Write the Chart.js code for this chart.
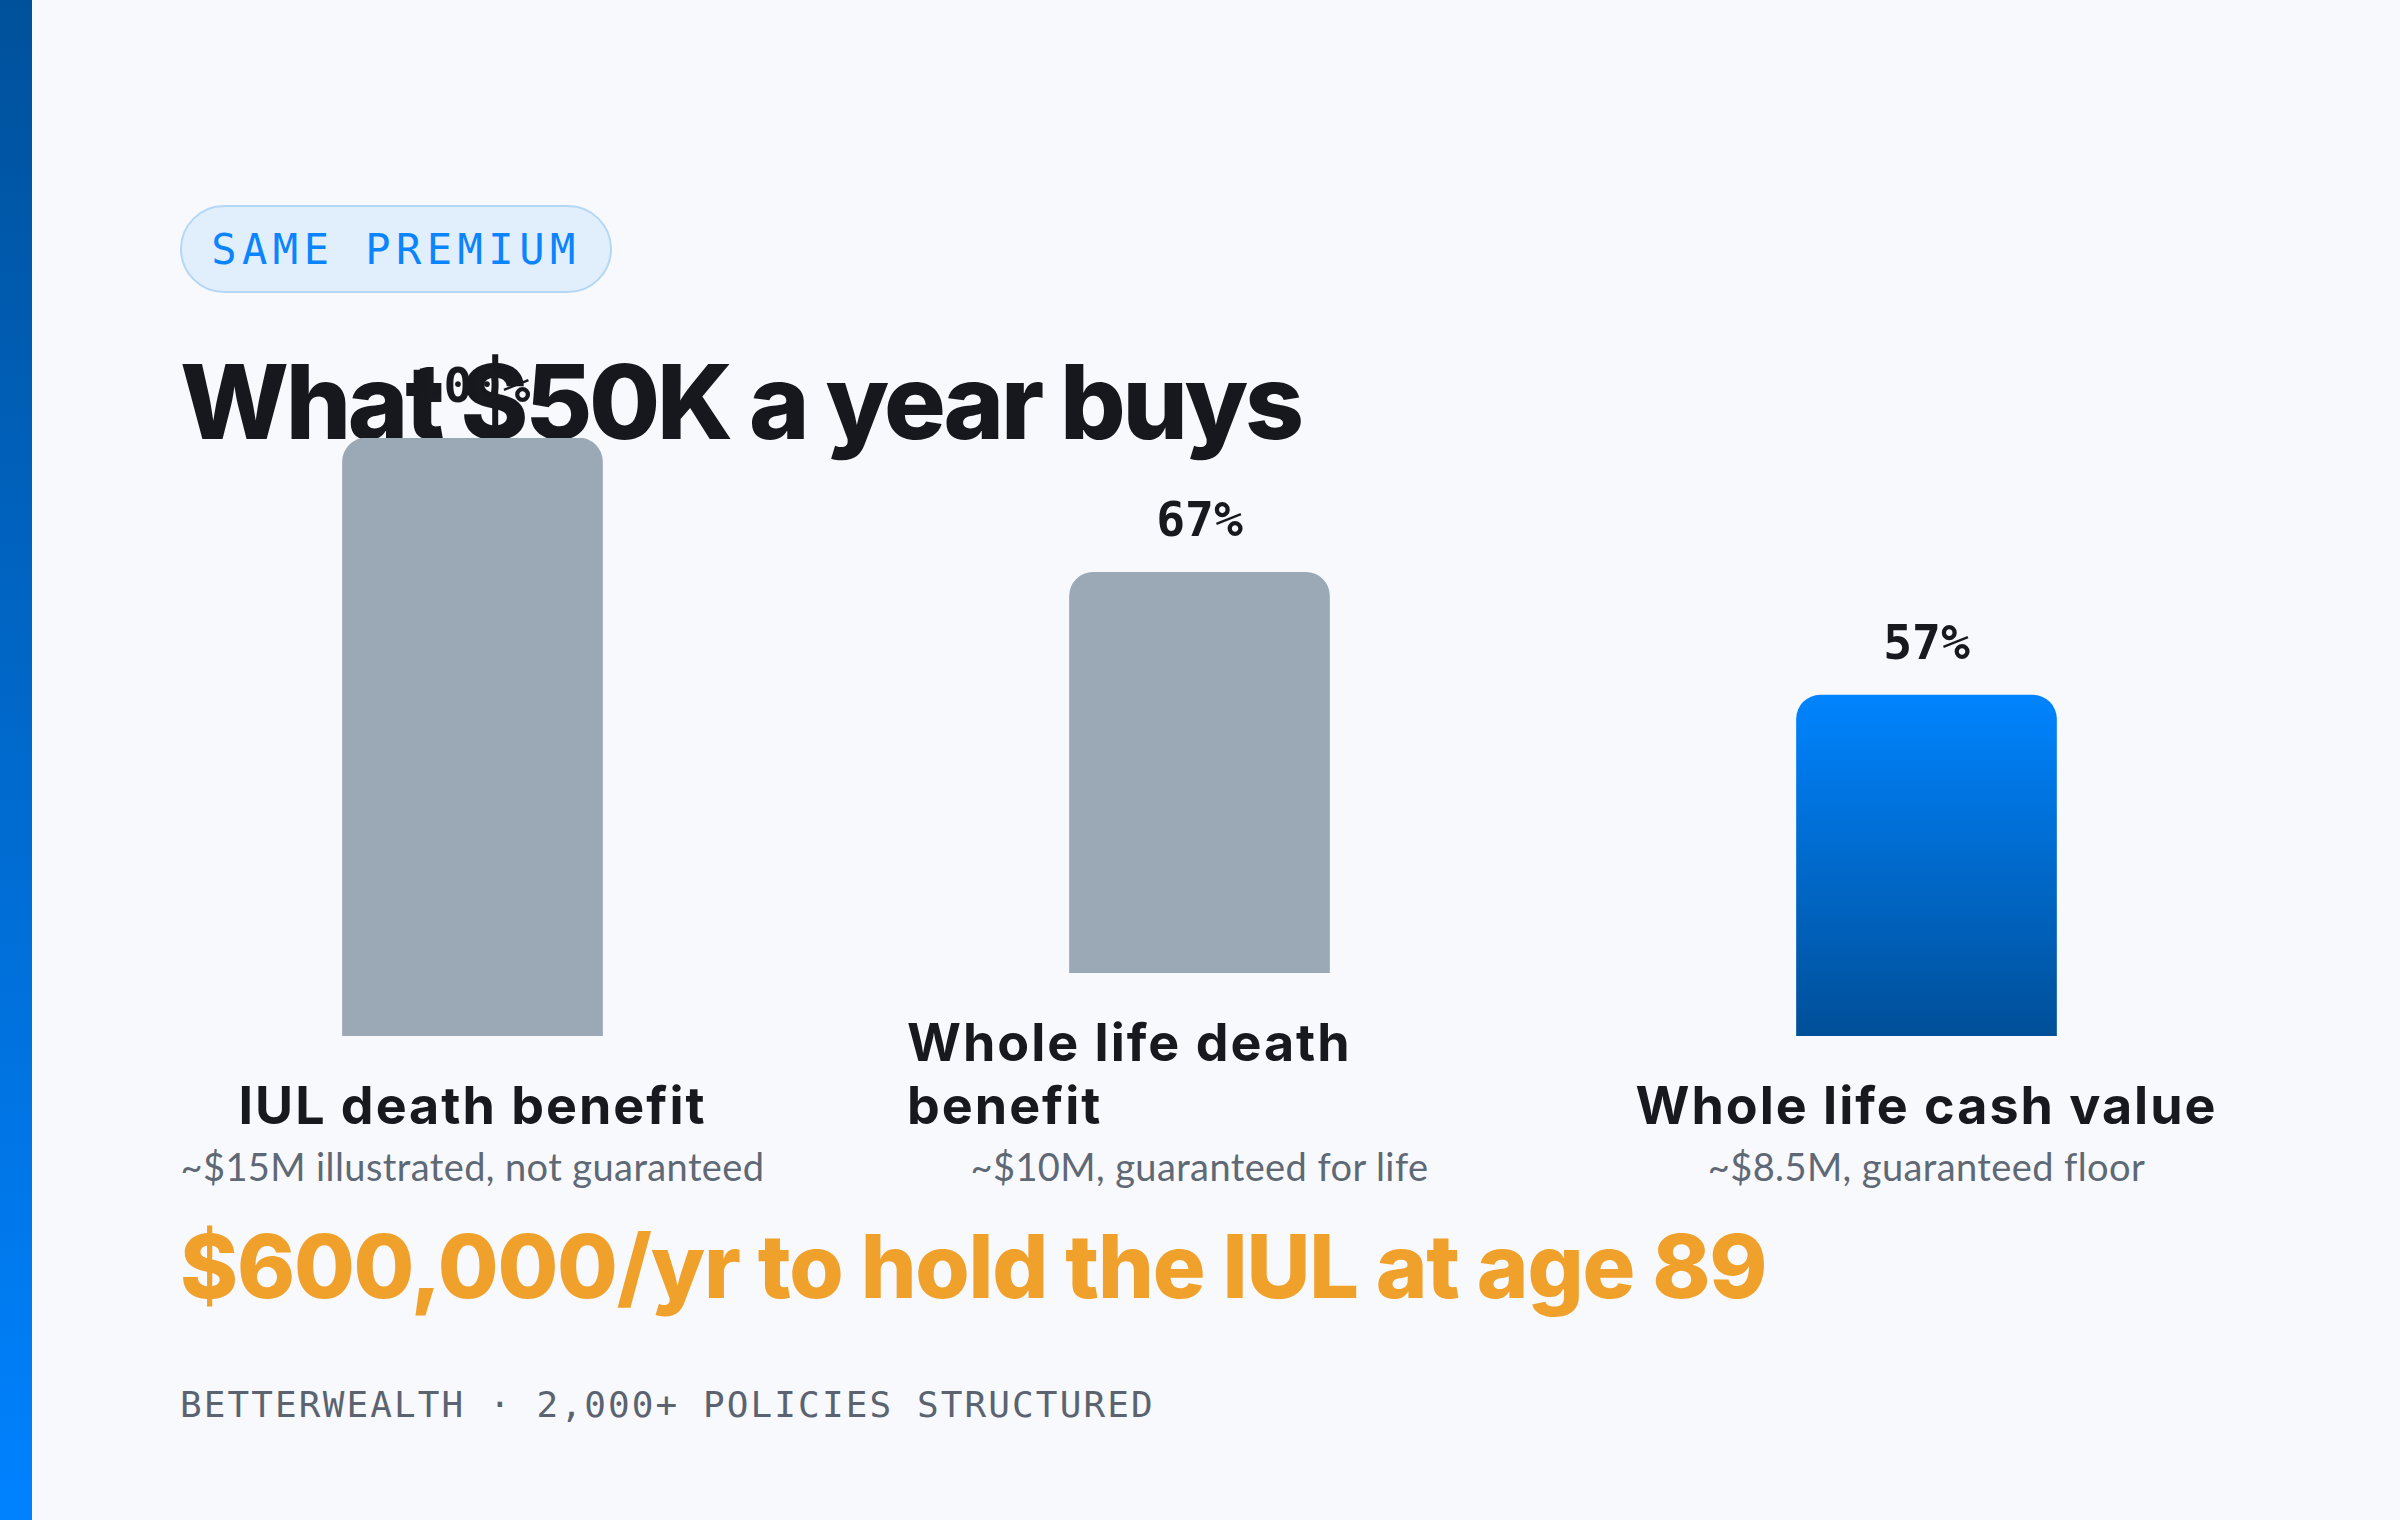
<!DOCTYPE html>
<html>
<head>
<meta charset="utf-8">
<script src="https://cdn.jsdelivr.net/npm/chart.js@4/dist/chart.umd.min.js"></script>
<style>
  html, body { margin: 0; padding: 0; }
  body {
    width: 2400px; height: 1520px; overflow: hidden; position: relative;
    background: #f8f9fc; font-family: Inter, "Noto Sans", sans-serif;
  }
  .stripe {
    position: absolute; left: 0; top: 0; width: 32px; height: 1520px;
    background: linear-gradient(to bottom, #00519b, #0082ff);
  }
  .pill {
    position: absolute; left: 180px; top: 205px; width: 428px; height: 84px;
    border: 2px solid #b5d7f6; border-radius: 44px; background: #e1eefb;
    box-sizing: content-box;
    display: flex; align-items: center; justify-content: center;
    font-family: "DejaVu Sans Mono", monospace; font-size: 42px; letter-spacing: 5.5px;
    color: #0a84ff;
  }
  .title {
    position: absolute; left: 180px; top: 349px; margin: 0;
    font-size: 103px; line-height: 105px; font-weight: 800; color: #16181d;
    letter-spacing: -3.3px;
  }
  .cols {
    position: absolute; left: 180px; top: 0; width: 2040px; height: 1190px;
    display: flex; align-items: flex-end; gap: 142px;
  }
  .col { width: 585px; display: flex; flex-direction: column; align-items: center; }
  .plot { position: relative; width: 585px; height: 698px; }
  .cat {
    margin-top: 38px; font-size: 52px; line-height: 63px; font-weight: 700; color: #17191e;
    letter-spacing: 2px;
  }
  .sub {
    margin-top: 5px; font-family: Lato, sans-serif; font-size: 38px; line-height: 48px; color: #5f6875;
    letter-spacing: 0.4px; white-space: nowrap;
  }
  .cost {
    position: absolute; left: 180px; top: 1222px;
    font-size: 88px; line-height: 88px; font-weight: 800; color: #f0a12b;
    letter-spacing: -1.2px;
  }
  .foot {
    position: absolute; left: 180px; top: 1386px;
    font-family: "DejaVu Sans Mono", monospace; font-size: 36px; line-height: 38px;
    letter-spacing: 2.1px; color: #5b6370;
  }
</style>
</head>
<body>
<div class="stripe"></div>
<div class="pill">SAME PREMIUM</div>
<h1 class="title">What $50K a year buys</h1>
<div class="cols" id="cols"></div>
<div class="cost">$600,000/yr to hold the IUL at age 89</div>
<div class="foot">BETTERWEALTH · 2,000+ POLICIES STRUCTURED</div>

<script>
const categories = ['IUL death benefit', 'Whole life death benefit', 'Whole life cash value'];
const subtitles = ['~$15M illustrated, not guaranteed', '~$10M, guaranteed for life', '~$8.5M, guaranteed floor'];
const sharePct = [100, 67, 57];
const highlightIndex = 2;

// draws the "67%" style numbers above each bar
const valueLabels = {
  id: 'valueLabels',
  afterDatasetsDraw(chart) {
    const { ctx } = chart;
    const values = chart.data.datasets[0].data;
    chart.getDatasetMeta(0).data.forEach((bar, i) => {
      ctx.save();
      ctx.font = 'bold 48px "DejaVu Sans Mono", monospace';
      ctx.fillStyle = '#17191e';
      ctx.textAlign = 'center';
      ctx.textBaseline = 'alphabetic';
      ctx.fillText(values[i] + '%', bar.x, bar.y - 36);
      ctx.restore();
    });
  }
};

function barFill(context, highlight) {
  if (!highlight) return '#9ba8b5';
  const { chart } = context;
  const { chartArea, scales } = chart;
  if (!chartArea) return '#0080ff';
  const top = scales.y.getPixelForValue(context.raw);
  const g = chart.ctx.createLinearGradient(0, top, 0, chartArea.bottom);
  g.addColorStop(0, '#0084ff');
  g.addColorStop(1, '#004f98');
  return g;
}

const cols = document.getElementById('cols');

categories.forEach((name, i) => {
  const col = document.createElement('div');
  col.className = 'col';
  col.innerHTML = `<div class="plot"><canvas></canvas></div>
    <div class="cat">${name}</div>
    <div class="sub">${subtitles[i]}</div>`;
  cols.appendChild(col);

  new Chart(col.querySelector('canvas'), {
    type: 'bar',
    data: {
      labels: [name],
      datasets: [{
        data: [sharePct[i]],
        backgroundColor: (ctx) => barFill(ctx, i === highlightIndex),
        barThickness: 260,
        borderRadius: { topLeft: 24, topRight: 24, bottomLeft: 0, bottomRight: 0 },
        borderSkipped: 'start'
      }]
    },
    options: {
      responsive: true,
      maintainAspectRatio: false,
      animation: false,
      layout: { padding: { top: 100, left: 0, right: 0, bottom: 0 } },
      plugins: { legend: { display: false }, tooltip: { enabled: false } },
      scales: {
        x: { display: false },
        y: { display: false, min: 0, max: 100 }
      }
    },
    plugins: [valueLabels]
  });
});
</script>
</body>
</html>
